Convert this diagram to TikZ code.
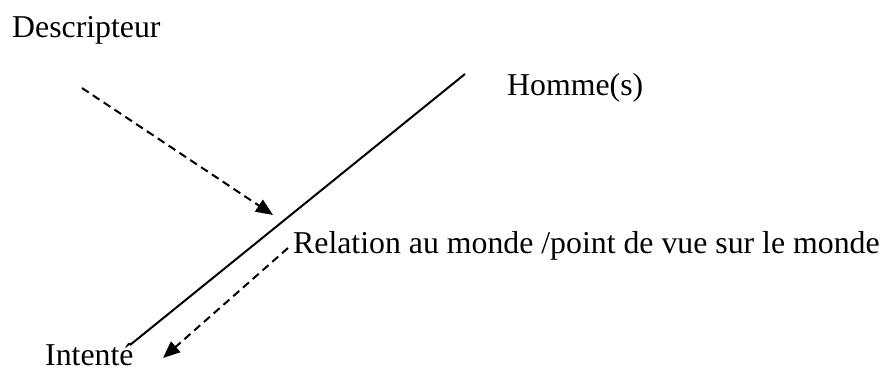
\documentclass[tikz,border=0pt]{standalone}
\usepackage{fontspec}
\setmainfont{Liberation Serif}
\usetikzlibrary{arrows.meta}

\begin{document}
\begin{tikzpicture}[x=1pt,y=-1pt, every node/.style={inner sep=0pt,anchor=base west,font=\fontsize{31.8}{38}\selectfont}, axe/.style={line width=2pt}, fl/.style={-{Triangle[length=17pt,width=14pt]},line width=2pt,dash pattern=on 8pt off 5pt}]
\useasboundingbox (0,0) rectangle (883,372);
\node (desc) at (12,37) {Descripteur}; \node (homme) at (507,95) {Homme(s)}; \node (rel) at (293,253) {Relation au monde /point de vue sur le monde}; \node (int) at (45,365) {Intenté};
\coordinate (bas) at (130,345); \coordinate (haut) at (465,74); \coordinate (d1) at (82,88); \coordinate (d2) at (273,215); \coordinate (r1) at (288,248); \coordinate (r2) at (163,358);
\draw[axe] (bas)--(haut); \draw[fl] (d1)--(d2); \draw[fl] (r1)--(r2);
\end{tikzpicture}
\end{document}
